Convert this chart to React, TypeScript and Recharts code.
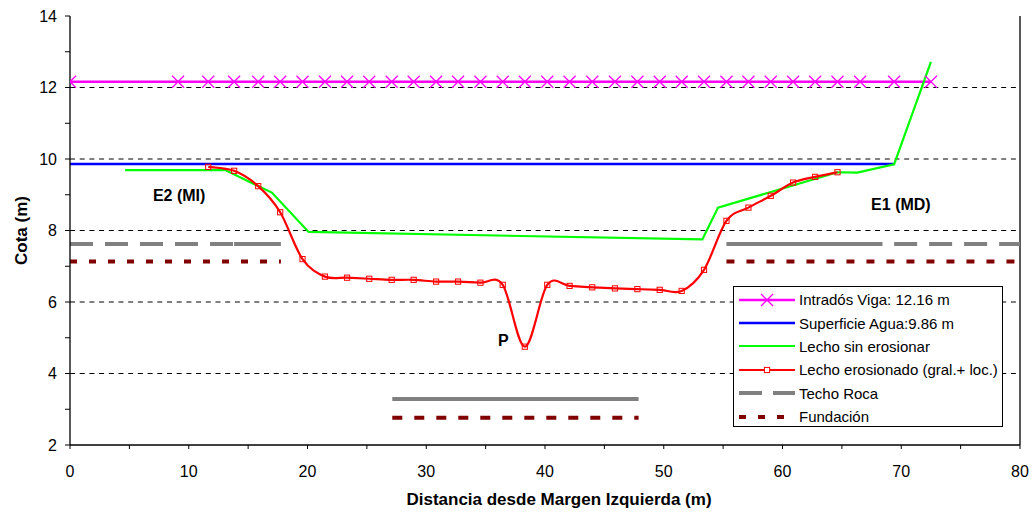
import React from 'react';
import {
  LineChart, Line, XAxis, YAxis, ReferenceLine, ReferenceDot, Legend,
} from 'recharts';

// ---------- data ----------
const xTicks = [0, 5, 10, 15, 20, 25, 30, 35, 40, 45, 50, 55, 60, 65, 70, 75, 80];
const yTicks = [2, 3, 4, 5, 6, 7, 8, 9, 10, 11, 12, 13, 14];
const gridValues = [4, 6, 8, 10, 12];

const intradosLevel = 12.16;
const intradosX = [0, 9.1, 11.64, 13.82, 15.85, 17.7, 19.58, 21.47, 23.33, 25.2, 27.09, 28.94, 30.83, 32.68, 34.56, 36.44, 38.3, 40.19, 42.07, 43.98, 45.89, 47.78, 49.66, 51.51, 53.39, 55.28, 57.13, 59.01, 60.89, 62.75, 64.63, 66.54, 69.4, 72.5];

const aguaLevel = 9.86;
const aguaX = [0, 69.4];

const lechoX = [4.64, 13.07, 17.0, 20.09, 53.25, 54.57, 64.63, 66.3, 69.4, 72.5];
const lechoY = [9.69, 9.69, 9.06, 7.96, 7.75, 8.64, 9.63, 9.62, 9.85, 12.72];

const erosX = [11.64, 13.82, 15.85, 17.7, 19.58, 21.47, 23.33, 25.2, 27.09, 28.94, 30.83, 32.68, 34.56, 36.44, 38.3, 40.19, 42.07, 43.98, 45.89, 47.78, 49.66, 51.51, 53.39, 55.28, 57.13, 59.01, 60.89, 62.75, 64.63];
const erosY = [9.78, 9.67, 9.24, 8.51, 7.2, 6.71, 6.68, 6.65, 6.62, 6.62, 6.57, 6.57, 6.54, 6.48, 4.75, 6.48, 6.45, 6.41, 6.38, 6.36, 6.34, 6.31, 6.9, 8.27, 8.64, 8.97, 9.34, 9.5, 9.63];

const rocaSideLevel = 7.62;
const rocaMidLevel = 3.29;
const rocaLeftDashedX = [0, 13.82];
const rocaLeftSolidX = [13.82, 17.76];
const rocaMidX = [27.14, 47.88];
const rocaRightSolidX = [55.28, 68.42];
const rocaRightDashedX = [69.4, 80];

const fundSideLevel = 7.13;
const fundMidLevel = 2.76;
const fundLeftX = [0, 17.76];
const fundMidX = [27.14, 47.88];
const fundRightX = [55.28, 80];

const legendLabels = [
  'Intradós Viga: 12.16 m',
  'Superficie Agua:9.86 m',
  'Lecho sin erosionar',
  'Lecho erosionado (gral.+ loc.)',
  'Techo Roca',
  'Fundación',
];

const annotations = [
  { x: 9.19, y: 8.99, text: 'E2 (MI)' },
  { x: 69.97, y: 8.73, text: 'E1 (MD)' },
  { x: 36.5, y: 4.94, text: 'P' },
];

// ---------- helpers ----------
const flat = (xs: number[], level: number) => xs.map((x) => ({ x, y: level }));
const pairs = (xs: number[], ys: number[]) => xs.map((x, i) => ({ x, y: ys[i] }));

const intradosData = flat(intradosX, intradosLevel);
const aguaData = flat(aguaX, aguaLevel);
const lechoData = pairs(lechoX, lechoY);
const erosData = pairs(erosX, erosY);

const MAGENTA = '#FF00FF';
const BLUE = '#0000FF';
const GREEN = '#00FF00';
const RED = '#FF0000';
const GREY = '#808080';
const DARKRED = '#800000';

// Excel-like smoothing (Catmull-Rom style bezier)
const smoothCurve: any = (context: any) => {
  let pts: number[][] = [];
  return {
    areaStart() {},
    areaEnd() {},
    lineStart() { pts = []; },
    point(x: number, y: number) { pts.push([+x, +y]); },
    lineEnd() {
      if (!pts.length) return;
      context.moveTo(pts[0][0], pts[0][1]);
      const t = 1 / 6;
      for (let i = 0; i < pts.length - 1; i++) {
        const p0 = pts[i - 1] || pts[i];
        const p1 = pts[i];
        const p2 = pts[i + 1];
        const p3 = pts[i + 2] || p2;
        context.bezierCurveTo(
          p1[0] + (p2[0] - p0[0]) * t, p1[1] + (p2[1] - p0[1]) * t,
          p2[0] - (p3[0] - p1[0]) * t, p2[1] - (p3[1] - p1[1]) * t,
          p2[0], p2[1],
        );
      }
    },
  };
};

const XDot = (props: any) => {
  const { cx, cy, index } = props;
  if (cx == null || cy == null) return <g key={`x${index}`} />;
  return (
    <path
      key={`x${index}`}
      d={`M${cx - 6},${cy - 6}L${cx + 6},${cy + 6}M${cx - 6},${cy + 6}L${cx + 6},${cy - 6}`}
      stroke={MAGENTA}
      strokeWidth={1.3}
      fill="none"
    />
  );
};

const SquareDot = (props: any) => {
  const { cx, cy, index } = props;
  if (cx == null || cy == null) return <g key={`s${index}`} />;
  return (
    <rect key={`s${index}`} x={cx - 2.6} y={cy - 2.6} width={5.2} height={5.2} stroke={RED} strokeWidth={1} fill="none" />
  );
};

const LegendIcon = ({ i }: { i: number }) => {
  const w = 56;
  const h = 14;
  const m = h / 2;
  switch (i) {
    case 0:
      return (
        <svg width={w} height={h}>
          <line x1={0} y1={m} x2={w} y2={m} stroke={MAGENTA} strokeWidth={2.5} />
          <path d={`M${w / 2 - 6},${m - 6}L${w / 2 + 6},${m + 6}M${w / 2 - 6},${m + 6}L${w / 2 + 6},${m - 6}`} stroke={MAGENTA} strokeWidth={1.3} />
        </svg>
      );
    case 1:
      return <svg width={w} height={h}><line x1={0} y1={m} x2={w} y2={m} stroke={BLUE} strokeWidth={2.5} /></svg>;
    case 2:
      return <svg width={w} height={h}><line x1={0} y1={m} x2={w} y2={m} stroke={GREEN} strokeWidth={2.2} /></svg>;
    case 3:
      return (
        <svg width={w} height={h}>
          <line x1={0} y1={m} x2={w} y2={m} stroke={RED} strokeWidth={2.2} />
          <rect x={w / 2 - 2.6} y={m - 2.6} width={5.2} height={5.2} stroke={RED} strokeWidth={1} fill="#fff" />
        </svg>
      );
    case 4:
      return <svg width={w} height={h}><line x1={0} y1={m} x2={w} y2={m} stroke={GREY} strokeWidth={4} strokeDasharray="23 11" /></svg>;
    default:
      return <svg width={w} height={h}><line x1={0} y1={m} x2={w} y2={m} stroke={DARKRED} strokeWidth={4} strokeDasharray="7 12" /></svg>;
  }
};

const LegendBox = () => (
  <div
    style={{
      width: 270, height: 141, boxSizing: 'border-box', border: '1px solid #000', background: '#fff',
      fontFamily: '"Liberation Sans", Arial, sans-serif', fontSize: 15, color: '#000', paddingTop: 1,
    }}
  >
    {legendLabels.map((lab, i) => (
      <div key={lab} style={{ display: 'flex', alignItems: 'center', height: 23.4, whiteSpace: 'nowrap' }}>
        <div style={{ marginLeft: 5, width: 56, height: 14, display: 'flex' }}><LegendIcon i={i} /></div>
        <span style={{ marginLeft: 4 }}>{lab}</span>
      </div>
    ))}
  </div>
);

const tickStyle = { fontSize: 16, fill: '#000' };
const titleStyle = { fontWeight: 'bold', fontSize: 17, fill: '#000' };

export default function App() {
  return (
    <div style={{ position: 'absolute', left: 0, top: 0, width: 1036, height: 514, background: '#fff', fontFamily: '"Liberation Sans", Arial, sans-serif' }}>
      <LineChart width={1036} height={514} margin={{ top: 16, right: 16, bottom: 0, left: 0 }}>
        <XAxis
          dataKey="x"
          type="number"
          domain={[0, 80]}
          ticks={xTicks}
          allowDataOverflow
          interval={0}
          tickFormatter={(v: number) => (v % 10 === 0 ? String(v) : '')}
          tick={tickStyle}
          tickSize={4}
          tickMargin={17}
          tickLine={{ stroke: '#000' }}
          axisLine={{ stroke: '#000', strokeWidth: 1.3 }}
          height={69}
          label={{ value: 'Distancia desde Margen Izquierda (m)', position: 'center', dx: 14, dy: 19, style: titleStyle }}
        />
        <YAxis
          type="number"
          domain={[2, 14]}
          ticks={yTicks}
          allowDataOverflow
          interval={0}
          tickFormatter={(v: number) => (v % 2 === 0 ? String(v) : '')}
          tick={tickStyle}
          tickSize={5}
          tickMargin={8}
          tickLine={{ stroke: '#000' }}
          axisLine={{ stroke: '#000', strokeWidth: 1.3 }}
          width={70}
          label={{ value: 'Cota (m)', angle: -90, position: 'center', dx: -14, style: titleStyle }}
        />
        {gridValues.map((v) => (
          <ReferenceLine key={`g${v}`} y={v} stroke="#000" strokeWidth={1} strokeDasharray="5 4.7" />
        ))}
        <ReferenceLine x={80} stroke="#000" strokeWidth={1.3} />

        <Line data={intradosData} dataKey="y" type="linear" stroke={MAGENTA} strokeWidth={2.5} dot={XDot} activeDot={false} isAnimationActive={false} />
        <Line data={aguaData} dataKey="y" type="linear" stroke={BLUE} strokeWidth={2.5} dot={false} activeDot={false} isAnimationActive={false} />
        <Line data={lechoData} dataKey="y" type="linear" stroke={GREEN} strokeWidth={2.2} dot={false} activeDot={false} isAnimationActive={false} />
        <Line data={erosData} dataKey="y" type={smoothCurve} stroke={RED} strokeWidth={2.2} dot={SquareDot} activeDot={false} isAnimationActive={false} />

        <Line data={flat(rocaLeftDashedX, rocaSideLevel)} dataKey="y" type="linear" stroke={GREY} strokeWidth={4} strokeDasharray="23 12" dot={false} activeDot={false} isAnimationActive={false} />
        <Line data={flat(rocaLeftSolidX, rocaSideLevel)} dataKey="y" type="linear" stroke={GREY} strokeWidth={4} dot={false} activeDot={false} isAnimationActive={false} />
        <Line data={flat(rocaMidX, rocaMidLevel)} dataKey="y" type="linear" stroke={GREY} strokeWidth={4} dot={false} activeDot={false} isAnimationActive={false} />
        <Line data={flat(rocaRightSolidX, rocaSideLevel)} dataKey="y" type="linear" stroke={GREY} strokeWidth={4} dot={false} activeDot={false} isAnimationActive={false} />
        <Line data={flat(rocaRightDashedX, rocaSideLevel)} dataKey="y" type="linear" stroke={GREY} strokeWidth={4} strokeDasharray="23 12" dot={false} activeDot={false} isAnimationActive={false} />

        <Line data={flat(fundLeftX, fundSideLevel)} dataKey="y" type="linear" stroke={DARKRED} strokeWidth={4} strokeDasharray="7 12" dot={false} activeDot={false} isAnimationActive={false} />
        <Line data={flat(fundMidX, fundMidLevel)} dataKey="y" type="linear" stroke={DARKRED} strokeWidth={4} strokeDasharray="10 12" dot={false} activeDot={false} isAnimationActive={false} />
        <Line data={flat(fundRightX, fundSideLevel)} dataKey="y" type="linear" stroke={DARKRED} strokeWidth={4} strokeDasharray="8 12" dot={false} activeDot={false} isAnimationActive={false} />

        {annotations.map((a) => (
          <ReferenceDot
            key={a.text}
            x={a.x}
            y={a.y}
            r={0}
            fill="none"
            stroke="none"
            label={{ value: a.text, position: 'center', style: { fontWeight: 'bold', fontSize: 16, fill: '#000' } }}
          />
        ))}

        <Legend
          layout="vertical"
          align="center"
          verticalAlign="middle"
          content={LegendBox}
          wrapperStyle={{ left: 733, top: 286, width: 270, height: 141, right: 'auto', bottom: 'auto' }}
        />
      </LineChart>
    </div>
  );
}
